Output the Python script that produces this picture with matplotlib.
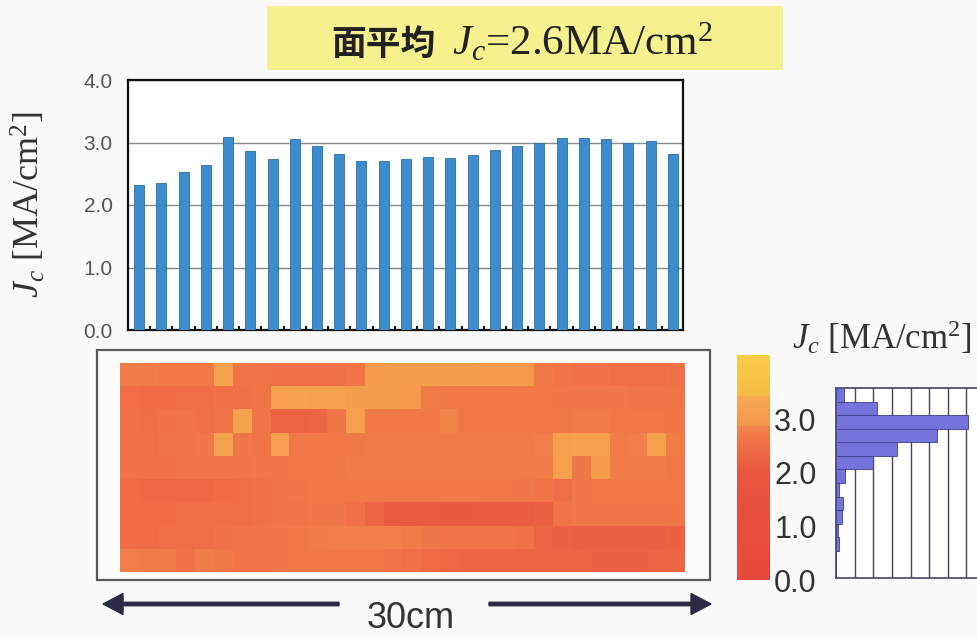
import numpy as np
import matplotlib
matplotlib.use('Agg')
import matplotlib.pyplot as plt
from matplotlib.colors import LinearSegmentedColormap, Normalize
from matplotlib.patches import Rectangle, FancyArrow

plt.rcParams['mathtext.fontset'] = 'custom'
plt.rcParams['mathtext.rm'] = 'Liberation Serif'
plt.rcParams['mathtext.it'] = 'Liberation Serif:italic'

#------------------------------------------------
# data

# Jc of each strip along the tape [MA/cm2]
bar_jc = [2.32, 2.35, 2.53, 2.64, 3.09, 2.86, 2.73, 3.06, 2.94, 2.81,
          2.70, 2.70, 2.73, 2.77, 2.76, 2.80, 2.88, 2.94, 3.00, 3.08,
          3.08, 3.05, 3.00, 3.02, 2.81]
bar_ticks = [0.0, 1.0, 2.0, 3.0, 4.0]

# Jc map, 9 rows x 30 columns [MA/cm2]
jc_map = [
    [2.75, 2.75, 2.70, 2.70, 2.70, 3.20, 2.60, 2.60, 2.55, 2.55, 2.55, 2.55, 2.60, 3.05, 3.10,
     3.10, 3.10, 3.10, 3.10, 3.05, 3.05, 3.00, 2.70, 2.60, 2.55, 2.55, 2.50, 2.50, 2.50, 2.55],
    [2.50, 2.45, 2.45, 2.50, 2.50, 2.55, 2.55, 2.60, 3.15, 3.20, 3.15, 3.15, 3.10, 3.10, 3.10,
     3.05, 2.75, 2.70, 2.70, 2.70, 2.70, 2.70, 2.70, 2.65, 2.65, 2.65, 2.65, 2.60, 2.60, 2.60],
    [2.55, 2.50, 2.55, 2.60, 2.55, 2.60, 3.20, 2.60, 2.30, 2.30, 2.35, 2.65, 3.15, 2.70, 2.70,
     2.70, 2.70, 2.85, 2.70, 2.70, 2.70, 2.70, 2.70, 2.70, 2.75, 2.75, 2.70, 2.70, 2.70, 2.65],
    [2.55, 2.55, 2.60, 2.60, 2.65, 3.20, 2.65, 2.60, 3.15, 2.70, 2.70, 2.70, 2.70, 2.75, 2.75,
     2.75, 2.75, 2.75, 2.75, 2.75, 2.75, 2.75, 2.80, 3.15, 3.20, 3.15, 2.75, 2.80, 3.15, 2.75],
    [2.55, 2.55, 2.55, 2.60, 2.60, 2.60, 2.60, 2.65, 2.65, 2.70, 2.70, 2.70, 2.75, 2.75, 2.75,
     2.75, 2.75, 2.75, 2.75, 2.75, 2.75, 2.75, 2.75, 3.15, 2.65, 3.10, 2.75, 2.75, 2.75, 2.70],
    [2.45, 2.40, 2.40, 2.40, 2.40, 2.45, 2.50, 2.55, 2.60, 2.65, 2.70, 2.70, 2.70, 2.70, 2.70,
     2.70, 2.70, 2.70, 2.70, 2.70, 2.70, 2.65, 2.60, 2.50, 2.65, 2.70, 2.70, 2.70, 2.70, 2.70],
    [2.45, 2.45, 2.45, 2.50, 2.50, 2.50, 2.50, 2.55, 2.60, 2.60, 2.65, 2.65, 2.55, 2.35, 2.15,
     2.15, 2.15, 2.10, 2.10, 2.15, 2.15, 2.15, 2.20, 2.60, 2.65, 2.65, 2.65, 2.65, 2.65, 2.65],
    [2.45, 2.45, 2.50, 2.50, 2.50, 2.55, 2.60, 2.60, 2.65, 2.70, 2.75, 2.80, 2.80, 2.80, 2.80,
     2.75, 2.65, 2.60, 2.60, 2.60, 2.60, 2.55, 2.30, 2.25, 2.20, 2.20, 2.20, 2.20, 2.20, 2.25],
    [2.80, 2.75, 2.75, 2.55, 2.75, 2.70, 2.60, 2.60, 2.65, 2.70, 2.70, 2.70, 2.70, 2.70, 2.60,
     2.55, 2.45, 2.40, 2.35, 2.35, 2.35, 2.35, 2.30, 2.30, 2.30, 2.25, 2.25, 2.25, 2.30, 2.30],
]
cbar_ticks = [0.0, 1.0, 2.0, 3.0]

# histogram of the map, bins of 0.25 MA/cm2 from 0 to 3.5 (grid units)
hist_lo = np.arange(0.0, 3.5, 0.25)
hist_counts = [0, 0, 0.15, 0.1, 0.32, 0.38, 0.15, 0.5, 2.0, 3.3, 5.4, 7.1, 2.2, 0.43]

#------------------------------------------------
W, H = 978, 639
fig = plt.figure(figsize=(W / 100, H / 100), dpi=100, facecolor='#f9f9f9')

def box(l, t, r, b):
  return [l / W, 1 - b / H, (r - l) / W, (b - t) / H]

cmap = LinearSegmentedColormap.from_list('jc', [
    (0.0 / 4.2, '#e6473c'),
    (2.0 / 4.2, '#e9553f'),
    (2.5 / 4.2, '#ef6e45'),
    (2.87 / 4.2, '#f3844a'),
    (2.88 / 4.2, '#f4974c'),
    (3.43 / 4.2, '#f6a94f'),
    (3.44 / 4.2, '#f6bc48'),
    (4.2 / 4.2, '#f8cd48')])
norm = Normalize(vmin=0.0, vmax=4.2)

# background overlay in pixel units for boxes and arrows
bg = fig.add_axes([0, 0, 1, 1], zorder=-1)
bg.set_xlim(0, W)
bg.set_ylim(H, 0)
bg.axis('off')
bg.add_patch(Rectangle((267, 6), 516, 64, facecolor='#f6f08e', edgecolor='none'))
bg.add_patch(Rectangle((97, 350), 613, 230, facecolor='#fcfcfc', edgecolor='#5a5a5a', lw=1.6))
arrow_col = '#2b2b45'
bg.add_patch(FancyArrow(339, 604, -236, 0, width=3.5, head_width=21, head_length=20,
                        length_includes_head=True, color=arrow_col))
bg.add_patch(FancyArrow(489, 604, 222, 0, width=3.5, head_width=21, head_length=20,
                        length_includes_head=True, color=arrow_col))
bg.text(411, 619, '30cm', ha='center', va='center', fontsize=26,
        family='Liberation Sans', color='#333333')

# title
fig.text(436 / W, 1 - 55 / H, '面平均', ha='right', va='baseline', fontsize=25,
         family='Noto Sans CJK JP', weight='bold', color='#222222')
fig.text(452 / W, 1 - 55 / H, r'$J_c$=2.6MA/cm$^2$', ha='left', va='baseline',
         fontsize=31, family='Liberation Serif', color='#222222')

# bar chart
ax1 = fig.add_axes(box(128, 80, 683, 330))
ax1.set_facecolor('white')
x = np.arange(len(bar_jc))
ax1.bar(x, bar_jc, width=0.45, color='#3d8ccd', edgecolor='#2c6ea6', lw=0.6, zorder=3)
ax1.set_xlim(-0.5, len(bar_jc) - 0.54)
ax1.set_ylim(0, 4)
ax1.set_yticks(bar_ticks)
ax1.set_yticklabels(['%.1f' % v for v in bar_ticks], family='Liberation Sans',
                    fontsize=15, color='#555555')
ax1.tick_params(axis='y', length=0, pad=11)
ax1.set_xticks(x[:-1] + 0.5)
ax1.set_xticklabels([])
ax1.tick_params(axis='x', direction='in', length=3, width=1.5, color='#111111')
ax1.grid(axis='y', color='#8a8a8a', lw=1, zorder=0)
for s in ax1.spines.values():
  s.set_linewidth(1.6)
  s.set_color('#111111')
ax1.set_ylabel(r'$J_c$ [MA/cm$^2$]', family='Liberation Serif', fontsize=26,
               color='#333333')
ax1.yaxis.set_label_coords(-0.145, 0.5)

# map
ax2 = fig.add_axes(box(120, 363, 685, 572))
im = ax2.imshow(np.array(jc_map), cmap=cmap, norm=norm, aspect='auto',
                interpolation='nearest')
ax2.axis('off')

# colour bar
cax = fig.add_axes(box(737, 355, 770, 580))
cb = fig.colorbar(im, cax=cax)
cb.outline.set_visible(False)
cb.set_ticks(cbar_ticks)
cb.set_ticklabels(['%.1f' % v for v in cbar_ticks])
cax.tick_params(length=0, pad=3, labelsize=22, labelcolor='#333333')
for lab in cax.get_yticklabels():
  lab.set_family('Liberation Sans')
fig.text(882 / W, 1 - 338 / H, r'$J_c$ [MA/cm$^2$]', ha='center', va='center',
         fontsize=25, family='Liberation Serif', color='#333333')

# histogram
axh = fig.add_axes(box(836, 388, 985, 578))
axh.set_facecolor('white')
axh.barh(hist_lo + 0.125, hist_counts, height=0.25, color='#7373d9',
         edgecolor='#3e3e90', lw=0.6, zorder=3)
axh.set_xlim(0, 8)
axh.set_ylim(0, 3.5)
for g in range(1, 8):
  axh.axvline(g, color='#45455f', lw=1, zorder=1)
axh.set_xticks([])
axh.set_yticks([])
for s in axh.spines.values():
  s.set_linewidth(1.2)
  s.set_color('#45455f')

fig.savefig('out.png', dpi=100, facecolor=fig.get_facecolor())
